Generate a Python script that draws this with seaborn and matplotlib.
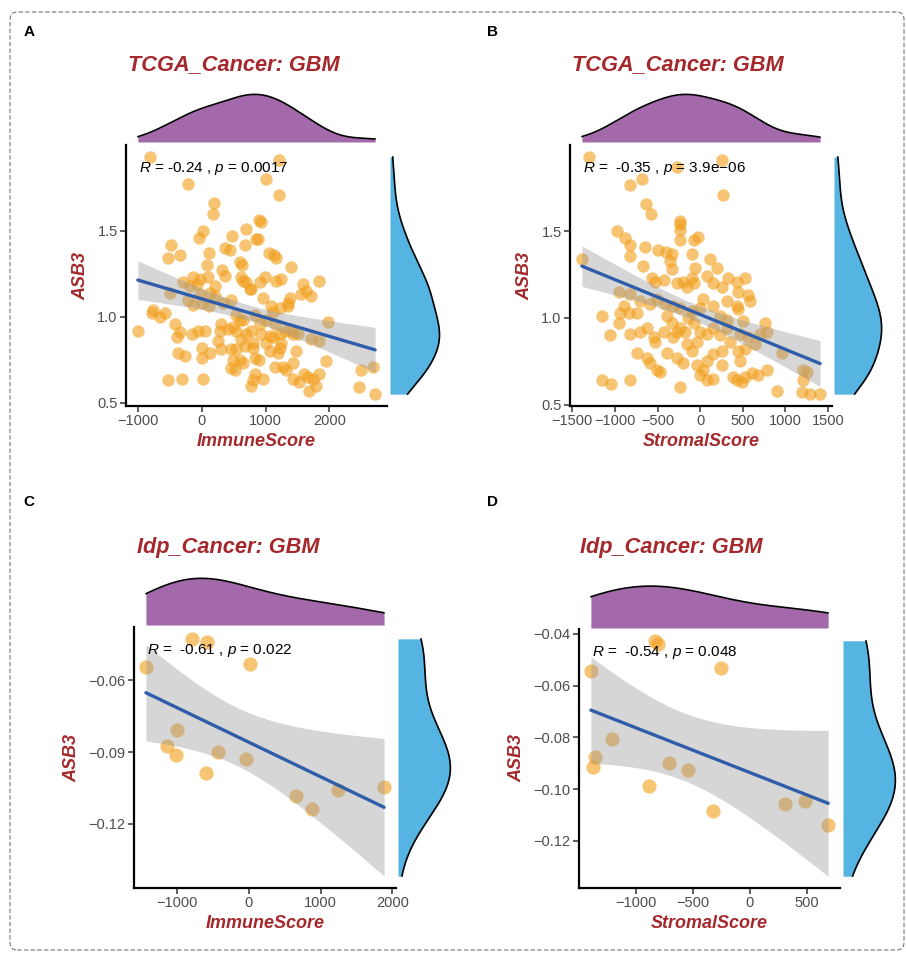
import numpy as np
import matplotlib
matplotlib.use("Agg")
import matplotlib.pyplot as plt
import seaborn as sns
from matplotlib.patches import FancyBboxPatch

# TCGA GBM, ImmuneScore vs ASB3 (panel A)
gbm_immune = [-804, 1209, -208, 1012, 1209, 197, 182, 898, 934, 26,
              -36, 701, 856, 882, 483, -477, -519, -337, 119, 363,
              441, 597, 638, 1048, 1126, 1157, 1401, 78, 322, 363,
              104, 986, 1168, 1246, 649, 623, 701, 779, 908, 1842,
              1583, 1635, 1713, 1557, 1375, 1349, 960, 753, 208, -285,
              -182, -78, -493, -26, -208, -130, 0, 119, 337, 467,
              1080, 1116, 1220, 1349, -753, -779, -649, -571, -415, -337,
              -389, -156, -52, 52, -996, 311, 285, 415, 493, 545,
              535, 597, 649, 830, 908, 1012, 1142, 934, 779, 701,
              623, 804, 675, 804, 1064, 1012, 1116, 1220, 1298, 1401,
              1427, 1505, 1713, 1842, 1972, 260, 311, 467, 545, 597,
              649, 493, 467, 519, 830, 898, 830, 804, 779, 960,
              1064, 1194, 1220, 1246, 1142, 1272, 1323, 1427, 1479, 1427,
              1531, 1609, 1661, 1739, 1791, 1687, 1842, 1946, -363, -260,
              0, -519, -311, 26, 2491, 2673, 2465, 2714, 130, 208,
              -130, -26, 675, 0, 130]
gbm_asb3_imm = [1.93, 1.91, 1.77, 1.80, 1.71, 1.66, 1.60, 1.56, 1.55, 1.50,
                1.46, 1.51, 1.45, 1.45, 1.47, 1.42, 1.34, 1.36, 1.37, 1.40,
                1.39, 1.32, 1.30, 1.37, 1.36, 1.34, 1.29, 1.30, 1.27, 1.24,
                1.23, 1.23, 1.21, 1.22, 1.21, 1.23, 1.20, 1.16, 1.20, 1.21,
                1.19, 1.15, 1.12, 1.13, 1.11, 1.08, 1.11, 1.16, 1.18, 1.20,
                1.18, 1.19, 1.14, 1.13, 1.10, 1.07, 1.08, 1.06, 1.08, 1.10,
                1.06, 1.03, 1.05, 1.06, 1.04, 1.02, 1.00, 1.02, 0.96, 0.91,
                0.88, 0.90, 0.92, 0.92, 0.92, 0.96, 0.92, 0.93, 0.94, 0.92,
                1.01, 0.98, 0.98, 1.01, 0.96, 0.98, 0.96, 0.90, 0.92, 0.90,
                0.87, 0.85, 0.83, 0.82, 0.89, 0.85, 0.88, 0.90, 0.92, 0.92,
                0.90, 0.90, 0.87, 0.86, 0.97, 0.86, 0.81, 0.81, 0.81, 0.75,
                0.73, 0.75, 0.70, 0.69, 0.76, 0.75, 0.67, 0.63, 0.60, 0.64,
                0.80, 0.79, 0.82, 0.85, 0.71, 0.71, 0.69, 0.73, 0.80, 0.64,
                0.62, 0.67, 0.65, 0.64, 0.60, 0.57, 0.67, 0.74, 0.79, 0.77,
                0.76, 0.63, 0.64, 0.64, 0.69, 0.71, 0.59, 0.55, 1.14, 1.12,
                1.23, 1.22, 1.42, 0.82, 0.79]

# TCGA GBM, StromalScore vs ASB3 (panel B)
gbm_stromal = [-1310, 254, -274, -829, -684, 274, -633, -575, -235, -235,
               -235, -235, -978, -880, -821, -829, -645, -78, -20, -489,
               -399, -332, -352, -332, -98, -59, 117, 196, -665, -1388,
               -567, -528, -430, -274, -196, -156, -78, 78, 156, 332,
               254, 430, 528, 567, 587, 450, 430, 313, -958, -821,
               -704, -587, -508, -411, -313, -235, -98, 0, 39, 156,
               -1153, -938, -841, -958, -1056, -821, -704, -626, -547, -528,
               -391, -332, -274, -235, -176, -78, -137, 0, -39, 78,
               156, 235, 313, 313, 469, 567, 645, 704, 782, 762,
               958, -743, -626, -587, -508, -469, -391, -274, -196, -98,
               -39, 0, 39, 78, 156, 254, 156, 78, 254, 391,
               430, 489, 469, 528, 606, 684, 782, -1153, -1048, -821,
               -235, 899, 1212, 1251, 1212, 1193, 1290, 1408, 450, 508,
               352, 450, 528, -899, -743, -430, -156, -313, 235, -98]
gbm_asb3_str = [1.93, 1.91, 1.87, 1.77, 1.80, 1.71, 1.66, 1.60, 1.56, 1.54,
                1.51, 1.45, 1.50, 1.46, 1.42, 1.36, 1.41, 1.45, 1.47, 1.39,
                1.38, 1.37, 1.33, 1.28, 1.37, 1.29, 1.34, 1.29, 1.30, 1.34,
                1.23, 1.21, 1.22, 1.20, 1.21, 1.18, 1.20, 1.24, 1.20, 1.23,
                1.18, 1.21, 1.23, 1.13, 1.10, 1.15, 1.07, 1.10, 1.15, 1.14,
                1.10, 1.08, 1.11, 1.08, 1.07, 1.06, 1.04, 1.06, 1.11, 1.07,
                1.01, 1.03, 1.03, 0.97, 0.90, 0.91, 0.92, 0.94, 0.89, 0.86,
                1.01, 0.97, 0.92, 0.94, 0.92, 0.97, 1.00, 0.92, 0.86, 0.91,
                0.94, 0.90, 0.94, 0.99, 0.91, 0.89, 0.85, 0.91, 0.92, 0.97,
                0.80, 0.80, 0.77, 0.74, 0.70, 0.69, 0.80, 0.77, 0.74, 0.81,
                0.73, 0.67, 0.70, 0.75, 0.79, 0.81, 0.65, 0.64, 0.73, 0.66,
                0.64, 0.63, 0.75, 0.66, 0.68, 0.67, 0.70, 0.64, 0.62, 0.64,
                0.60, 0.58, 0.70, 0.69, 0.64, 0.57, 0.56, 0.56, 1.05, 0.98,
                0.86, 0.81, 0.82, 1.07, 1.03, 0.92, 0.85, 0.89, 1.01, 1.23]

# Idp GBM cohort (panels C and D share the ASB3 values)
idp_asb3 = [-0.0545, -0.0427, -0.0441, -0.0534, -0.0806, -0.0876, -0.0914,
            -0.0899, -0.0988, -0.0927, -0.1085, -0.1138, -0.1059, -0.1048]
idp_immune = [-1433, -791, -581, 23, -1005, -1140, -1019,
              -433, -595, -33, 660, 879, 1247, 1884]
idp_stromal = [-1399, -837, -808, -254, -1213, -1362, -1379,
               -711, -886, -542, -327, 688, 306, 487]

titles = ["TCGA_Cancer: GBM", "TCGA_Cancer: GBM", "Idp_Cancer: GBM", "Idp_Cancer: GBM"]
stat_labels = [r"$R$ = -0.24 , $p$ = 0.0017", r"$R$ =  -0.35 , $p$ = 3.9e−06",
               r"$R$ =  -0.61 , $p$ = 0.022", r"$R$ =  -0.54 , $p$ = 0.048"]
xticks = [[-1000, 0, 1000, 2000], [-1500, -1000, -500, 0, 500, 1000, 1500],
          [-1000, 0, 1000, 2000], [-1000, -500, 0, 500]]
yticks = [[0.5, 1.0, 1.5], [0.5, 1.0, 1.5],
          [-0.06, -0.09, -0.12], [-0.04, -0.06, -0.08, -0.10, -0.12]]

RED = "#A4282C"
PURPLE = "#A369AB"
SKY = "#56B4E2"
ORANGE = "#F2A01E"
LINE = "#2F5DA9"

sns.set_theme(style="white")
plt.rcParams["font.family"] = ["Liberation Sans", "DejaVu Sans"]
plt.rcParams["mathtext.fontset"] = "custom"
plt.rcParams["mathtext.rm"] = "Liberation Sans"
plt.rcParams["mathtext.it"] = "Liberation Sans:italic"

W, H = 906, 957
fig = plt.figure(figsize=(W / 100, H / 100), dpi=100)


def px_axes(x0, y0, x1, y1):
    return fig.add_axes([x0 / W, 1 - y1 / H, (x1 - x0) / W, (y1 - y0) / H])


def t975(df):
    # Cornish-Fisher approximation of the 97.5% t quantile
    z = 1.959964
    return (z + (z**3 + z) / (4 * df) + (5 * z**5 + 16 * z**3 + 3 * z) / (96 * df**2)
            + (3 * z**7 + 19 * z**5 + 17 * z**3 - 15 * z) / (384 * df**3))


def lm_band(x, y, grid):
    n = len(x)
    b, a = np.polyfit(x, y, 1)
    s = np.sqrt(((y - (a + b * x)) ** 2).sum() / (n - 2))
    se = s * np.sqrt(1 / n + (grid - x.mean()) ** 2 / ((x - x.mean()) ** 2).sum())
    fit = a + b * grid
    return fit - t975(n - 2) * se, fit + t975(n - 2) * se


# pixel boxes: main (l, t, r, b), top marginal (t0, t1), right marginal (r0, r1)
layout = [
    dict(main=(126, 145, 387, 406), top=(92, 142), right=(390, 442), title=(234, 65), letter=("A", 29, 32), size=80),
    dict(main=(570, 145, 832, 406), top=(92, 142), right=(834, 884), title=(678, 65), letter=("B", 492, 32), size=80),
    dict(main=(134, 627, 396, 888), top=(576, 625), right=(398, 453), title=(228, 548), letter=("C", 29, 502), size=105),
    dict(main=(579, 629, 840, 888), top=(584, 628), right=(843, 898), title=(671, 548), letter=("D", 492, 502), size=105),
]
xs = [gbm_immune, gbm_stromal, idp_immune, idp_stromal]
ys = [gbm_asb3_imm, gbm_asb3_str, idp_asb3, idp_asb3]
xlabels = ["ImmuneScore", "StromalScore", "ImmuneScore", "StromalScore"]
BW = 1.15

for i, lay in enumerate(layout):
    x = np.asarray(xs[i], dtype=float)
    y = np.asarray(ys[i], dtype=float)
    l, t, r, b = lay["main"]
    ax = px_axes(l, t, r, b)

    sns.scatterplot(x=x, y=y, ax=ax, color=ORANGE, alpha=0.62, s=lay["size"],
                    linewidth=0, zorder=2)
    grid = np.linspace(x.min(), x.max(), 120)
    lo, hi = lm_band(x, y, grid)
    ax.fill_between(grid, lo, hi, color="#999999", alpha=0.4, lw=0, zorder=3)
    sns.regplot(x=x, y=y, ax=ax, scatter=False, ci=None, truncate=True,
                color=LINE, line_kws=dict(lw=2.4, zorder=4))

    xr = x.max() - x.min()
    ymin, ymax = min(y.min(), lo.min()), max(y.max(), hi.max())
    yr = ymax - ymin
    ax.set_xlim(x.min() - 0.05 * xr, x.max() + 0.05 * xr)
    ax.set_ylim(ymin - 0.05 * yr, ymax + 0.05 * yr)
    ax.set_xticks(xticks[i])
    ax.set_yticks(yticks[i])
    for side in ["top", "right"]:
        ax.spines[side].set_visible(False)
    for side in ["left", "bottom"]:
        ax.spines[side].set_linewidth(1.6)
        ax.spines[side].set_color("black")
    ax.tick_params(length=4, width=1.1, color="#333333", labelsize=10.5,
                   labelcolor="#4D4D4D", pad=2, bottom=True, left=True)
    ax.set_xlabel(xlabels[i], fontsize=13, fontweight="bold", fontstyle="italic",
                  color=RED, labelpad=3)
    ax.set_ylabel("ASB3", fontsize=13, fontweight="bold", fontstyle="italic",
                  color=RED, labelpad=6)
    ax.text(0.048, 0.91, stat_labels[i], transform=ax.transAxes, fontsize=11,
            ha="left", va="center", color="black", zorder=5)

    # top marginal density
    axt = px_axes(l, lay["top"][0], r, lay["top"][1])
    sns.kdeplot(x=x, ax=axt, fill=True, color=PURPLE, alpha=1, linewidth=0,
                cut=0, bw_adjust=BW)
    sns.kdeplot(x=x, ax=axt, color="black", linewidth=1.2, cut=0, bw_adjust=BW)
    axt.set_xlim(ax.get_xlim())
    axt.set_ylim(bottom=0)
    axt.axis("off")

    # right marginal density
    axr = px_axes(lay["right"][0], t, lay["right"][1], b)
    sns.kdeplot(y=y, ax=axr, fill=True, color=SKY, alpha=1, linewidth=0,
                cut=10, clip=(ymin, ymax), bw_adjust=BW)
    sns.kdeplot(y=y, ax=axr, color="black", linewidth=1.2, cut=10,
                clip=(ymin, ymax), bw_adjust=BW)
    axr.set_ylim(ax.get_ylim())
    axr.set_xlim(left=0)
    axr.axis("off")

    fig.text(lay["title"][0] / W, 1 - lay["title"][1] / H, titles[i], ha="center",
             va="center", fontsize=15.7, fontweight="bold", fontstyle="italic", color=RED)
    letter, lx, ly = lay["letter"]
    fig.text(lx / W, 1 - ly / H, letter, ha="center", va="center", fontsize=11,
             fontweight="bold", color="black")

fig.patches.append(FancyBboxPatch((10 / W, 1 - 950 / H), 894 / W, 938 / H,
                                  boxstyle="round,pad=0,rounding_size=0.008",
                                  transform=fig.transFigure, fill=False,
                                  ls=(0, (4, 2)), ec="#777777", lw=0.8))

fig.savefig("out.png", dpi=100)
